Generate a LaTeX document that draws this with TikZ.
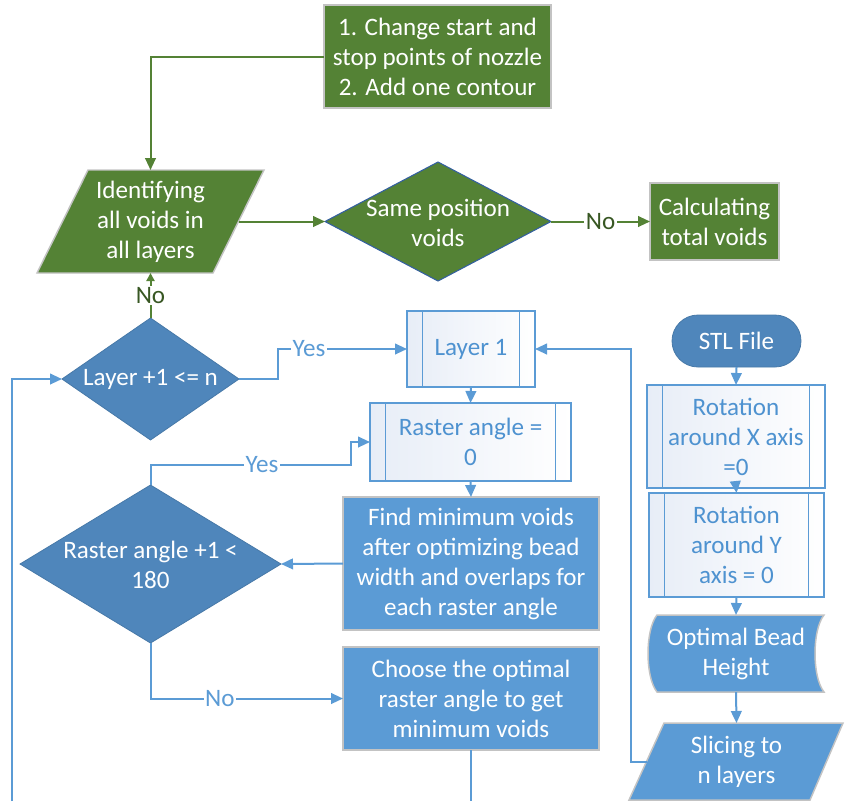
\documentclass[tikz,border=0pt]{standalone}
\usepackage{fontspec}
\setmainfont{Carlito}
\usetikzlibrary{shapes.geometric,arrows.meta,calc}
\definecolor{gfill}{RGB}{84,130,53}
\definecolor{gdark}{RGB}{56,87,35}
\definecolor{bfill}{RGB}{91,155,213}
\definecolor{bdia}{RGB}{79,134,187}
\definecolor{bline}{RGB}{91,155,213}
\definecolor{btext}{RGB}{78,146,208}
\definecolor{gborder}{RGB}{195,195,195}
\definecolor{dborder}{RGB}{52,96,160}
\definecolor{plight}{RGB}{231,237,247}
\tikzset{
  every node/.style={font=\fontsize{18.8}{22.5}\selectfont},
  base/.style={inner sep=0pt, outer sep=0pt, align=center},
  grect/.style={base, rectangle, fill=gfill, draw=gborder, line width=1.1pt, text=white},
  brect/.style={base, rectangle, fill=bfill, draw=gborder, line width=1.1pt, text=white},
  predef/.style={base, rectangle, draw=bline, line width=1pt, left color=plight, right color=white, text=btext,
    path picture={\draw[bline,line width=1pt]
      ([xshift=11.5pt]path picture bounding box.north west) -- ([xshift=11.5pt]path picture bounding box.south west)
      ([xshift=-11.5pt]path picture bounding box.north east) -- ([xshift=-11.5pt]path picture bounding box.south east);}},
  bdiam/.style={base, diamond, fill=bdia, draw=bdia!90!black, line width=0.6pt},
  txtw/.style={base, text=white},
  barrow/.style={draw=bline, line width=1.5pt, -{Triangle[length=9pt,width=8pt]}},
  bline/.style={draw=bline, line width=1.5pt},
  garrow/.style={draw=gfill, line width=1.5pt, -{Triangle[length=9pt,width=8pt]}},
  lbl/.style={fill=white, inner sep=1pt, text=bline},
  glbl/.style={fill=white, inner sep=1pt, text=gdark},
}
\begin{document}
\begin{tikzpicture}[x=0.75pt,y=-0.75pt]
\useasboundingbox (0,0) rectangle (848,801);

% green part
\node[grect, minimum width=170.25pt, minimum height=77.25pt] (top) at (437.5,56.5)
  {1. Change start and\\stop points of nozzle\\2. Add one contour};
\filldraw[fill=gfill, draw=gborder, line width=1.1pt] (88,170) -- (264,170) -- (213,273) -- (37,273) -- cycle;
\node[base, text=white, minimum width=132pt, minimum height=77.25pt] (ident) at (150.5,221.5) {Identifying\\all voids in\\all layers};
\node[base, diamond, fill=gfill, draw=dborder, line width=0.8pt, minimum width=169.5pt, minimum height=89.25pt] (same) at (438,221.5) {};
\node[txtw] at (438,223) {Same position\\voids};
\node[grect, minimum width=96.75pt, minimum height=57.75pt] (calc) at (714.5,221.5) {Calculating\\total voids};

% blue decisions
\node[bdiam, minimum width=132.75pt, minimum height=91.5pt] (layer) at (150.5,379) {};
\node[txtw] at (150.5,379) {Layer +1 <= n};
\node[bdiam, minimum width=195.75pt, minimum height=118.5pt] (rdia) at (150.5,564) {};
\node[txtw] at (150.5,565) {Raster angle +1 <\\180};

% middle column
\node[predef, minimum width=96pt, minimum height=57pt] (layer1) at (471,349) {Layer 1};
\node[predef, minimum width=150.75pt, minimum height=58.5pt] (raster0) at (470.5,442) {Raster angle =\\0};
\node[brect, minimum width=192pt, minimum height=99.75pt] (find) at (471,563.5)
  {Find minimum voids\\after optimizing bead\\width and overlaps for\\each raster angle};
\node[brect, minimum width=192pt, minimum height=77.25pt] (choose) at (471,698.5)
  {Choose the optimal\\raster angle to get\\minimum voids};

% right column
\node[base, rectangle, rounded corners=19.5pt, fill=bdia, draw=bdia!90!black, line width=0.6pt, text=white,
  minimum width=96.75pt, minimum height=39pt] (stl) at (736.5,341) {STL File};
\node[predef, minimum width=133.5pt, minimum height=77.25pt] (rotx) at (736,436.5) {Rotation\\around X axis\\=0};
\node[predef, minimum width=131.25pt, minimum height=78pt] (roty) at (736.5,545) {Rotation\\around Y\\axis = 0};
\filldraw[fill=bfill, draw=gborder, line width=1.1pt]
  (657,615) -- (824,615) .. controls (812,630) and (812,677) .. (824,692)
  -- (657,692) .. controls (645,677) and (645,630) .. (657,615) -- cycle;
\node[base, text=white, minimum width=132pt, minimum height=57.75pt] (opt) at (736,653.5) {Optimal Bead\\Height};
\filldraw[fill=bfill, draw=gborder, line width=1.1pt] (664,723) -- (843,723) -- (810,800) -- (629,800) -- cycle;
\node[base, text=white, minimum width=135pt, minimum height=57.75pt] (slice) at (736.5,761.5) {Slicing to\\n layers};

\coordinate (lb) at (12,801);
\coordinate (cb) at (471,801);

% connectors green
\draw[garrow] (top.west) -| (ident.north);
\draw[garrow] (ident.east) -- (same.west);
\draw[garrow] (same.east) -- node[glbl]{No} (calc.west);
\draw[draw=gfill, line width=1.5pt, -{Triangle[length=6pt,width=6pt]}] (layer.north) -- node[glbl]{No} (ident.south);

% connectors blue
\draw[barrow] (layer.east) -- ++(39,0) |- node[lbl,pos=0.62]{Yes} (layer1.west);
\draw[barrow] (layer1.south) -- (raster0.north);
\draw[barrow] (raster0.south) -- (find.north);
\draw[barrow] (find.west) -- (rdia.east);
\draw[barrow] (rdia.north) -- ++(0,-20) -- node[lbl,pos=0.556]{Yes} ++(200.5,0) |- (raster0.west);
\draw[barrow] (rdia.south) |- node[lbl,pos=0.68]{No} (choose.west);
\draw[bline] (choose.south) -- (cb);
\draw[barrow] (lb) |- (layer.west);
\draw[barrow] (stl.south) -- (rotx.north);
\draw[barrow] (rotx.south) -- (roty.north);
\draw[barrow] (roty.south) -- (opt.north);
\draw[barrow] (opt.south) -- (slice.north);
\draw[barrow] (slice.west) -- ++(-16,0) |- (layer1.east);
\end{tikzpicture}
\end{document}
